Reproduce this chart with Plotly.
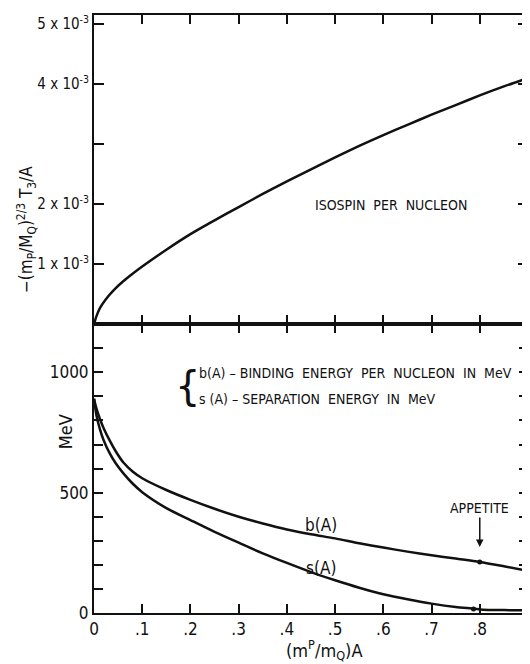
import plotly.graph_objects as go

# ---- data ----
iso_x = [0, 0.005, 0.0125, 0.025, 0.04, 0.06, 0.08, 0.1, 0.15, 0.2, 0.25, 0.3, 0.35,
         0.4, 0.45, 0.5, 0.55, 0.6, 0.65, 0.7, 0.75, 0.8, 0.85, 0.9]
iso_y = [0, 0.13e-3, 0.27e-3, 0.42e-3, 0.56e-3, 0.71e-3, 0.84e-3, 0.96e-3, 1.24e-3, 1.50e-3,
         1.73e-3, 1.95e-3, 2.17e-3, 2.38e-3, 2.58e-3, 2.78e-3, 2.97e-3, 3.15e-3, 3.32e-3,
         3.49e-3, 3.65e-3, 3.81e-3, 3.96e-3, 4.10e-3]

b_x = [0, 0.005, 0.0125, 0.02, 0.033, 0.045, 0.061, 0.08, 0.1, 0.15, 0.2, 0.25, 0.3, 0.35,
       0.4, 0.45, 0.5, 0.55, 0.6, 0.65, 0.7, 0.75, 0.8, 0.85, 0.9]
b_y = [890, 850, 805, 768, 715, 672, 625, 588, 560, 511, 470, 433, 400, 372,
       347, 327, 310, 290, 272, 255, 240, 226, 212, 194, 175]

s_x = [0, 0.005, 0.0125, 0.02, 0.033, 0.045, 0.061, 0.08, 0.1, 0.15, 0.2, 0.25, 0.3, 0.35,
       0.4, 0.45, 0.5, 0.55, 0.6, 0.65, 0.7, 0.75, 0.79, 0.8, 0.85, 0.9]
s_y = [890, 822, 762, 718, 662, 622, 580, 538, 502, 436, 386, 337, 292, 248,
       208, 170, 136, 105, 78, 57, 39, 25, 18, 15, 12, 12]

appetite_x = [0.8]
appetite_b = [212]
s_dot_x = [0.787]
s_dot_y = [17]

x_ticks = [0, 0.1, 0.2, 0.3, 0.4, 0.5, 0.6, 0.7, 0.8, 0.9]
x_ticktext = ["0", ".1", ".2", ".3", ".4", ".5", ".6", ".7", ".8", ".9"]
iso_ticks = [1e-3, 2e-3, 3e-3, 4e-3, 5e-3]
iso_ticktext = ["1 x 10<sup>-3</sup>", "2 x 10<sup>-3</sup>", "",
                "4 x 10<sup>-3</sup>", "5 x 10<sup>-3</sup>"]
mev_ticks = [0, 100, 200, 300, 400, 500, 600, 700, 800, 900, 1000, 1100]
mev_ticktext = ["0", "", "", "", "", "500", "", "", "", "", "1000", ""]

FONT = "Liberation Sans Narrow, DejaVu Sans Condensed, Arial Narrow, sans-serif"
INK = "#111111"

fig = go.Figure()
line_style = dict(color=INK, width=2.5, shape="spline", smoothing=0.8)
fig.add_trace(go.Scatter(x=iso_x, y=iso_y, mode="lines", line=line_style,
                         xaxis="x", yaxis="y", showlegend=False))
fig.add_trace(go.Scatter(x=b_x, y=b_y, mode="lines", line=line_style,
                         xaxis="x2", yaxis="y2", showlegend=False))
fig.add_trace(go.Scatter(x=s_x, y=s_y, mode="lines", line=line_style,
                         xaxis="x2", yaxis="y2", showlegend=False))
fig.add_trace(go.Scatter(x=appetite_x + s_dot_x, y=appetite_b + s_dot_y, mode="markers",
                         marker=dict(color=INK, size=5), xaxis="x2", yaxis="y2",
                         showlegend=False))

def ax(**kw):
    d = dict(showline=True, linecolor=INK, linewidth=2, mirror="ticks", ticks="inside",
             tickcolor=INK, tickwidth=1.5, showgrid=False, zeroline=False, automargin=False,
             tickfont=dict(family=FONT, size=17, color=INK))
    d.update(kw)
    return d

top_dom = [0.483, 1.0]
bot_dom = [0.0, 0.483]

fig.update_layout(
    xaxis=ax(range=[0, 0.9], tickmode="array", tickvals=x_ticks, ticktext=[""] * len(x_ticks),
             ticklen=9, domain=[0, 1], anchor="y", linewidth=1.5),
    yaxis=ax(range=[0, 5.15e-3], tickmode="array", tickvals=iso_ticks, ticktext=iso_ticktext,
             ticklen=10, domain=top_dom, anchor="x", tickfont=dict(family=FONT, size=15, color=INK)),
    xaxis2=ax(range=[0, 0.9], tickmode="array", tickvals=x_ticks, ticktext=x_ticktext,
              ticklen=9, domain=[0, 1], anchor="y2", ticklabeloverflow="allow"),
    yaxis2=ax(range=[0, 1200], tickmode="array", tickvals=mev_ticks, ticktext=mev_ticktext,
              ticklen=9, domain=bot_dom, anchor="x2"),
)

ann_font = dict(family=FONT, size=14, color=INK)
annotations = [
    dict(xref="x", yref="y", x=0.616, y=1.98e-3, text="ISOSPIN  PER  NUCLEON",
         showarrow=False, font=ann_font),
    dict(xref="x2", yref="y2", x=0.193, y=945, text="{", showarrow=False,
         font=dict(family="DejaVu Sans, sans-serif", size=40, color=INK)),
    dict(xref="x2", yref="y2", x=0.213, y=999, xanchor="left",
         text="b(A) \u2013 BINDING  ENERGY  PER  NUCLEON  IN  MeV", showarrow=False, font=ann_font),
    dict(xref="x2", yref="y2", x=0.213, y=888, xanchor="left",
         text="s (A) \u2013 SEPARATION  ENERGY  IN  MeV", showarrow=False, font=ann_font),
    dict(xref="x2", yref="y2", x=0.47, y=365, text="b(A)", showarrow=False,
         font=dict(family=FONT, size=17, color=INK)),
    dict(xref="x2", yref="y2", x=0.47, y=186, text="s(A)", showarrow=False,
         font=dict(family=FONT, size=17, color=INK)),
    dict(xref="x2", yref="y2", x=appetite_x[0], y=appetite_b[0], text="APPETITE",
         showarrow=True, arrowhead=2, arrowsize=1, arrowwidth=1.5, arrowcolor=INK,
         ax=0, ay=-54, standoff=15, font=ann_font),
    dict(xref="paper", yref="paper", x=0.53, y=-0.062, yanchor="middle",
         text="(m<sup>P</sup>/m<sub>Q</sub>)A",
         showarrow=False, font=dict(family=FONT, size=18, color=INK)),
    dict(xref="paper", x=-0.19, yref="paper", y=0.75,
         text="\u2212(m<sub>P</sub>/M<sub>Q</sub>)<sup>2/3</sup> T<sub>3</sub>/A",
         textangle=-90, showarrow=False, font=dict(family=FONT, size=17, color=INK)),
    dict(xref="paper", x=-0.095, yref="paper", y=0.27, text="MeV", textangle=-90,
         showarrow=False, font=dict(family=FONT, size=18, color=INK)),
]

# The page body adds an 8px margin, so the figure is 8px smaller than the window
fig.update_layout(width=522, height=656, margin=dict(l=86, r=2, t=7, b=51, autoexpand=False),
                  paper_bgcolor="white", plot_bgcolor="white", annotations=annotations,
                  showlegend=False)

fig.write_html("out.html")
